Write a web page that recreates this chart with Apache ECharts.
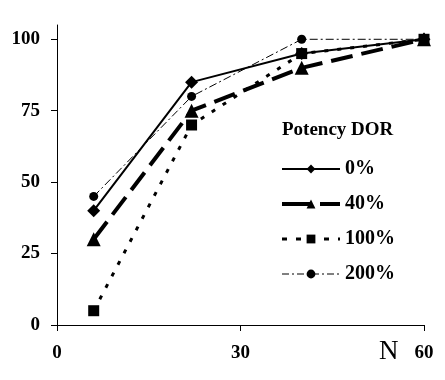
<!DOCTYPE html>
<html><head><meta charset="utf-8">
<script src="https://cdn.jsdelivr.net/npm/echarts@6/dist/echarts.min.js"></script>
<style>html,body{margin:0;padding:0;background:#fff}#c{width:445px;height:380px}</style>
</head><body><div id="c"></div>
<script>
var xValues = [6, 22, 40, 60];
var seriesNames = ['0%', '40%', '100%', '200%'];
var s0 = [40, 85, 95, 100];
var s40 = [30, 75, 90, 100];
var s100 = [5, 70, 95, 100];
var s200 = [45, 80, 100, 100];
var yTicks = [0, 25, 50, 75, 100];
var xTicks = [0, 30, 60];

function pairs(v){ return xValues.map(function(x,i){return [x, v[i]];}); }
var font = 'Liberation Serif';
var styles = [
  {symbol: 'diamond', size: 13, width: 2, type: 'solid'},
  {symbol: 'triangle', size: 14, width: 4, type: [22, 9]},
  {symbol: 'rect', size: 11, width: 3, type: [4, 9]},
  {symbol: 'circle', size: 9, width: 1, type: [8, 3, 2, 3]}
];
var legendStyles = [
  {width: 2, type: 'solid'},
  {width: 4, type: [30, 8]},
  {width: 3, type: [5, 9]},
  {width: 1, type: [7, 3, 2, 3]}
];
var dataSets = [s0, s40, s100, s200];
var chart = echarts.init(document.getElementById('c'));
chart.setOption({
  animation: false,
  backgroundColor: '#fff',
  grid: {left: 57, right: 21, top: 25, bottom: 55},
  xAxis: {
    type: 'value', min: 0, max: 60, interval: 30,
    axisLine: {lineStyle: {color: '#000', width: 1}},
    axisTick: {show: true, length: 6, lineStyle: {color: '#000'}},
    splitLine: {show: false},
    axisLabel: {color: '#000', fontFamily: font, fontWeight: 'bold', fontSize: 19, margin: 19}
  },
  yAxis: {
    type: 'value', min: 0, max: 105,
    axisLine: {show: true, lineStyle: {color: '#000', width: 1}},
    axisTick: {show: true, length: 6, lineStyle: {color: '#000'}, customValues: yTicks},
    splitLine: {show: false},
    axisLabel: {color: '#000', fontFamily: font, fontWeight: 'bold', fontSize: 19, margin: 17, customValues: yTicks}
  },
  legend: {
    orient: 'vertical', left: 275, top: 154, itemWidth: 58, itemHeight: 11, itemGap: 15,
    textStyle: {color: '#000', fontFamily: font, fontWeight: 'bold', fontSize: 20},
    data: seriesNames.map(function(n, i){
      return {name: n, lineStyle: {color: '#000', width: legendStyles[i].width, type: legendStyles[i].type}};
    })
  },
  graphic: [
    {type: 'text', left: 282, top: 121, style: {text: 'Potency DOR', fill: '#000', font: 'bold 19px "Liberation Serif"'}},
    {type: 'text', left: 379, top: 338, style: {text: 'N', fill: '#000', font: '27px "Liberation Serif"'}}
  ],
  series: seriesNames.map(function(n, i){
    return {name: n, type: 'line', data: pairs(dataSets[i]), symbol: styles[i].symbol, symbolSize: styles[i].size,
      lineStyle: {color: '#000', width: styles[i].width, type: styles[i].type}, itemStyle: {color: '#000'}};
  })
});
</script></body></html>
